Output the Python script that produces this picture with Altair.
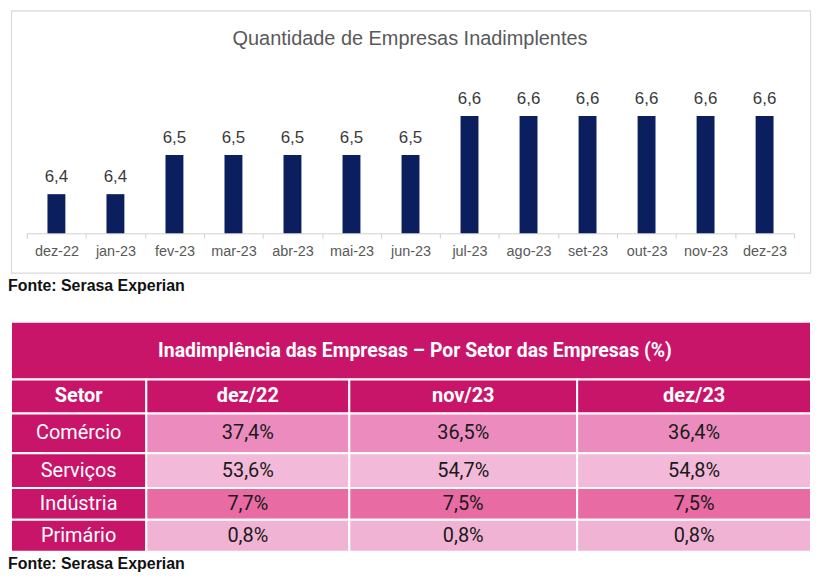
import altair as alt
import pandas as pd

# ---------------- data ----------------
months = ["dez-22", "jan-23", "fev-23", "mar-23", "abr-23", "mai-23", "jun-23",
          "jul-23", "ago-23", "set-23", "out-23", "nov-23", "dez-23"]
qtd = [6.4, 6.4, 6.5, 6.5, 6.5, 6.5, 6.5, 6.6, 6.6, 6.6, 6.6, 6.6, 6.6]

sectors = ["Comércio", "Serviços", "Indústria", "Primário"]
periods = ["dez/22", "nov/23", "dez/23"]
share_dez22 = [37.4, 53.6, 7.7, 0.8]
share_nov23 = [36.5, 54.7, 7.5, 0.8]
share_dez23 = [36.4, 54.8, 7.5, 0.8]

chart_title = "Quantidade de Empresas Inadimplentes"
table_title = "Inadimplência das Empresas – Por Setor das Empresas (%)"
source_note = "Fonte: Serasa Experian"

# ---------------- layout ----------------
W, H = 804, 564
col_edges = [0, 136, 340, 569, 804]
row_edges = [313, 371, 405, 445, 480, 512, 544]  # title | header | 4 sector rows
bar_range = [16, 787]
bar_y_range = [224, 66.7]

SANS = "'Liberation Sans', Arial, sans-serif"
TABLE_FONT = "Roboto, 'Liberation Sans', sans-serif"


def br(v, suffix=""):
    return f"{v:.1f}".replace(".", ",") + suffix


bars_df = pd.DataFrame({"mes": months, "qtd": qtd, "rotulo": [br(v) for v in qtd]})

# table cells
cells = []
cells.append(dict(x0=col_edges[0], x1=col_edges[-1], y0=row_edges[0], y1=row_edges[1],
                  role="head", txt=table_title, kind="title"))
header = ["Setor"] + periods
for j, h in enumerate(header):
    cells.append(dict(x0=col_edges[j], x1=col_edges[j + 1], y0=row_edges[1], y1=row_edges[2],
                      role="head", txt=h, kind="header"))
cols = [share_dez22, share_nov23, share_dez23]
for i, s in enumerate(sectors):
    y0, y1 = row_edges[i + 2], row_edges[i + 3]
    cells.append(dict(x0=col_edges[0], x1=col_edges[1], y0=y0, y1=y1,
                      role="head", txt=s, kind="sector"))
    for j, c in enumerate(cols):
        cells.append(dict(x0=col_edges[j + 1], x1=col_edges[j + 2], y0=y0, y1=y1,
                          role=f"row{i}", txt=br(c[i], "%"), kind="value"))
cells_df = pd.DataFrame(cells)
cells_df["xc"] = (cells_df.x0 + cells_df.x1) / 2
cells_df["yc"] = (cells_df.y0 + cells_df.y1) / 2

xs = alt.Scale(domain=[0, W], range=[0, W], nice=False, zero=False)
ys = alt.Scale(domain=[0, H], range=[0, H], nice=False, zero=False)

# ---------------- top chart ----------------
frame = alt.Chart(pd.DataFrame({"a": [0]})).mark_rect(
    fillOpacity=0, stroke="#d9d9d9", strokeWidth=1.2
).encode(x=alt.value(0.5), x2=alt.value(803.5), y=alt.value(0.5), y2=alt.value(264))

title_txt = alt.Chart(pd.DataFrame({"t": [chart_title]})).mark_text(
    font=SANS, fontSize=20, color="#595959", align="center", baseline="middle"
).encode(text="t:N", x=alt.value(401), y=alt.value(29))

xband = alt.Scale(domain=months, range=bar_range, paddingInner=0, paddingOuter=0)
yq = alt.Scale(domain=[6.3, 6.7], range=bar_y_range, nice=False, zero=False)

bars = alt.Chart(bars_df).mark_bar(size=18, color="#0b1f5f").encode(
    x=alt.X("mes:N", sort=months, scale=xband,
            axis=alt.Axis(title=None, orient="bottom", offset=bar_y_range[0] - H,
                          domainColor="#d0d0d0", tickColor="#d0d0d0", tickSize=5,
                          tickBand="extent", labelAngle=0, labelFont=SANS,
                          labelFontSize=14.5, labelColor="#595959", labelPadding=6,
                          grid=False)),
    y=alt.Y("qtd:Q", scale=yq, axis=None),
    y2=alt.datum(6.3),
)

bar_labels = alt.Chart(bars_df).mark_text(
    font=SANS, fontSize=17, color="#3a3a3a", align="center", baseline="alphabetic", dy=-12
).encode(
    x=alt.X("mes:N", sort=months, scale=xband, axis=None),
    y=alt.Y("qtd:Q", scale=yq, axis=None),
    text="rotulo:N",
)

# ---------------- table ----------------
cell_rects = alt.Chart(cells_df).mark_rect(stroke="white", strokeWidth=2).encode(
    x=alt.X("x0:Q", scale=xs, axis=None), x2="x1:Q",
    y=alt.Y("y0:Q", scale=ys, axis=None), y2="y1:Q",
    color=alt.Color("role:N", legend=None, scale=alt.Scale(
        domain=["head", "row0", "row1", "row2", "row3"],
        range=["#c8156a", "#ec8cbe", "#f3b9d8", "#e86ba4", "#f1b3d4"])),
)


def cell_text(kind, **kw):
    return alt.Chart(cells_df).transform_filter(
        alt.datum.kind == kind
    ).mark_text(align="center", baseline="middle", **kw).encode(
        x=alt.X("xc:Q", scale=xs, axis=None),
        y=alt.Y("yc:Q", scale=ys, axis=None),
        text="txt:N",
    )


t_title = cell_text("title", font=TABLE_FONT, fontSize=19.5, fontWeight="bold", color="white", dx=4)
t_header = cell_text("header", font=TABLE_FONT, fontSize=20, fontWeight="bold", color="white")
t_sector = cell_text("sector", font=TABLE_FONT, fontSize=20, color="white")
t_value = cell_text("value", font=TABLE_FONT, fontSize=20, color="#1a1a1a")

notes = alt.Chart(pd.DataFrame({"t": [source_note, source_note], "y": [277, 556]})).mark_text(
    font=SANS, fontSize=16, fontWeight="bold", color="#111111", align="left", baseline="middle"
).encode(text="t:N", x=alt.value(-3), y=alt.Y("y:Q", scale=ys, axis=None))

chart = alt.layer(
    frame, title_txt, bars, bar_labels,
    cell_rects, t_title, t_header, t_sector, t_value, notes,
).resolve_scale(
    x="independent", y="independent", color="independent"
).properties(
    width=W, height=H, padding=0
).configure_view(stroke=None)

chart.save("out.html", embed_options={"renderer": "svg", "actions": False})
